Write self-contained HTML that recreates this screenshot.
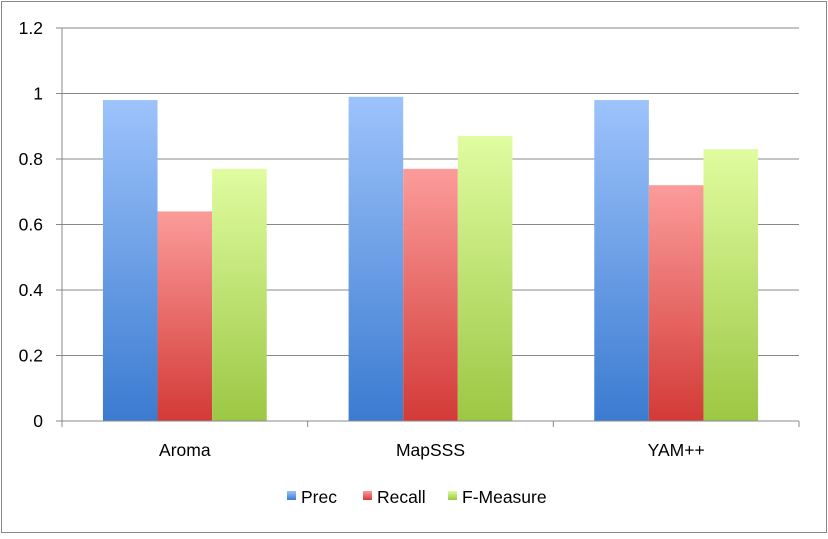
<!DOCTYPE html>
<html><head><meta charset="utf-8"><style>
html,body{margin:0;padding:0;background:#fff;}
svg text{font-family:"Liberation Sans",sans-serif;fill:#000;}
</style></head><body>
<svg id="chart" width="828" height="534" xmlns="http://www.w3.org/2000/svg">
<defs>
<linearGradient id="gBlue" x1="0" y1="0" x2="0" y2="1"><stop offset="0" stop-color="#9dc3fb"/><stop offset="1" stop-color="#3b7bd0"/></linearGradient>
<linearGradient id="gRed" x1="0" y1="0" x2="0" y2="1"><stop offset="0" stop-color="#fb9c9a"/><stop offset="1" stop-color="#d33a37"/></linearGradient>
<linearGradient id="gGreen" x1="0" y1="0" x2="0" y2="1"><stop offset="0" stop-color="#e0fca0"/><stop offset="1" stop-color="#9cc744"/></linearGradient>
</defs>
<rect x="1.5" y="1.5" width="825" height="531" fill="#fff" stroke="#888" stroke-width="1"/>
<g id="grid"></g><g id="bars"></g><g id="axes"></g><g id="legend"></g>
</svg>
<script>
const categories = ["Aroma","MapSSS","YAM++"];
const seriesNames = ["Prec","Recall","F-Measure"];
const prec = [0.98,0.99,0.98];
const recall = [0.64,0.77,0.72];
const fmeasure = [0.77,0.87,0.83];
const yTicks = [0,0.2,0.4,0.6,0.8,1,1.2];
const yTickLabels = ["0","0.2","0.4","0.6","0.8","1","1.2"];

const NS="http://www.w3.org/2000/svg";
const x0=62,x1=799,y0=421,y1=28,yMax=1.2;
const y=v=>y0-(v/yMax)*(y0-y1);
const catW=(x1-x0)/categories.length;
const barW=54.6;
const FS=17.5;
function mk(t,a,p){const e=document.createElementNS(NS,t);for(const k in a)e.setAttribute(k,a[k]);p.appendChild(e);return e;}
const grid=document.getElementById('grid'),bars=document.getElementById('bars'),axes=document.getElementById('axes'),legend=document.getElementById('legend');
yTicks.forEach((v,i)=>{
  if(v>0){const l=mk('line',{x1:x0,x2:x1,y1:y(v),y2:y(v),stroke:'#888','stroke-width':1},grid);
  
  }
  const t=mk('line',{x1:x0-6,x2:x0,y1:y(v),y2:y(v),stroke:'#888'},axes);
  
  
  const tx=mk('text',{x:x0-19,y:y(v)+6,'text-anchor':'end','font-size':FS},axes);tx.textContent=yTickLabels[i];
  
  
});
const series=[prec,recall,fmeasure],fills=['url(#gBlue)','url(#gRed)','url(#gGreen)'];
categories.forEach((c,ci)=>{
  const start=x0+ci*catW+(catW-3*barW)/2;
  series.forEach((s,si)=>{
    const r=mk('rect',{x:start+si*barW,y:y(s[ci]),width:barW,height:y0-y(s[ci]),fill:fills[si]},bars);
    
    
  });
  const lab=mk('text',{x:x0+ci*catW+catW/2,y:456,'text-anchor':'middle','font-size':FS},axes);lab.textContent=c;
  
  
});
for(let i=0;i<=categories.length;i++){
  const t=mk('line',{x1:x0+i*catW,x2:x0+i*catW,y1:y0,y2:y0+6,stroke:'#888'},axes);
  
  
}
const ya=mk('line',{x1:x0,x2:x0,y1:y1,y2:y0,stroke:'#888'},axes);


const xa=mk('line',{x1:x0-6,x2:x1,y1:y0,y2:y0,stroke:'#888'},axes);


const lx=[287,363,448];
seriesNames.forEach((n,i)=>{
  const sq=mk('rect',{x:lx[i],y:491,width:9,height:9,fill:fills[i]},legend);
  
  
  const t=mk('text',{x:lx[i]+14,y:503,'font-size':FS},legend);t.textContent=n;
  
  
});
</script>
</body></html>
